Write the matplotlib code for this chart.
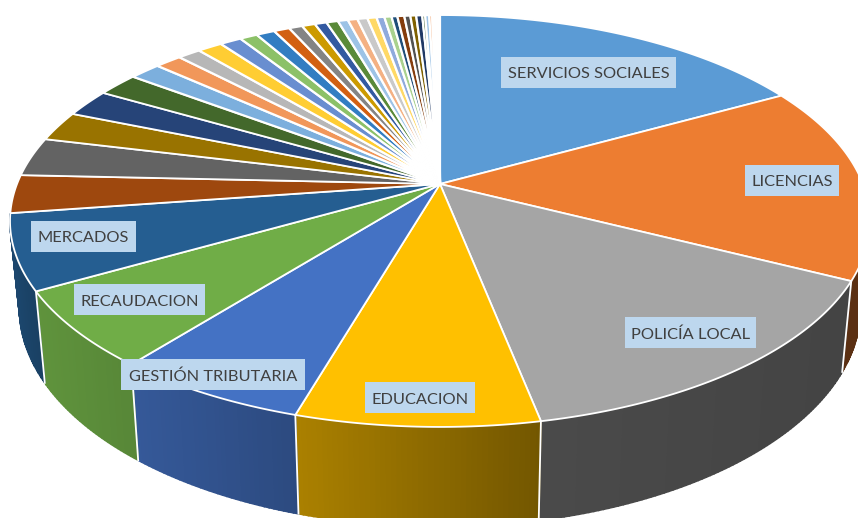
"""Tarta 3D por areas: cara superior en perspectiva, pared lateral con degradado y etiquetas."""

import matplotlib

matplotlib.use("Agg")
import matplotlib.pyplot as plt
import numpy as np
from matplotlib.colors import to_rgb
from matplotlib.patches import Rectangle

# Porcentaje de cada porcion, en sentido horario desde las 12.
shares = [
    17.01, 15.39, 14.46, 7.72, 6.23, 6.03,
    5.90, 2.99, 3.05, 2.36, 2.17, 1.86,
    1.40, 1.20, 1.03, 1.11, 0.97, 0.79,
    0.83, 0.71, 0.60, 0.59, 0.53, 0.52,
    0.45, 0.43, 0.45, 0.41, 0.35, 0.32,
    0.26, 0.31, 0.27, 0.26, 0.27, 0.13,
    0.18, 0.13, 0.04, 0.05, 0.05, 0.05, 0.05, 0.05, 0.06,
]
slice_colors = [
    "#5B9BD5", "#ED7D31", "#A5A5A5", "#FFC000", "#4472C4", "#70AD47",
    "#255E91", "#9E480E", "#636363", "#997300", "#264478", "#43682B",
    "#7CAFDD", "#F1975A", "#B7B7B7", "#FFCD33", "#698ED0", "#8CC168",
    "#327DC2", "#D26012", "#848484", "#CC9A00", "#335AA1", "#5A8A39",
    "#9DC3E6", "#F4B183", "#C9C9C9", "#FFD966", "#8FAADC", "#A9D18E",
    "#1F4E79", "#843C0C", "#525252", "#7F6000", "#203864", "#385723",
    "#9DC3E6", "#F4B183", "#E4E4E4", "#FFE699", "#B4C7E7", "#C5E0B4",
    "#BDD7EE", "#F8CBAD", "#EDEDED",
]
# Oscurecido de la pared (izquierda, derecha); solo se ven las porciones 1 a 6.
wall_shades = {
    1: (0.41, 0.38), 2: (0.45, 0.41), 3: (0.67, 0.45),
    4: (0.78, 0.65), 5: (0.85, 0.78), 6: (0.75, 0.68),
}

label_names = [
    "SERVICIOS SOCIALES", "LICENCIAS", "POLICÍA LOCAL", "EDUCACION",
    "GESTIÓN TRIBUTARIA", "RECAUDACION", "MERCADOS",
]
# x0, x1, y0, y1 de cada caja de etiqueta, en pixeles de la imagen.
label_boxes = [
    (501, 676, 57, 88), (745, 839, 165, 196), (625, 756, 317, 348),
    (365, 475, 382, 413), (121, 305, 359, 390), (74, 205, 284, 315),
    (31, 136, 221, 252),
]

CX, CY = 440.0, 184.0
K = 74 / 412
SCALE_X, SCALE_Y = 423.0, 199.3
BASE_X, BASE_Y, BASE_DY = 0.978, 1.06, 269.0


def project(theta):
    """Pasa un angulo (desde las 12, horario) al borde de la cara superior."""
    u, v = np.sin(theta), -np.cos(theta)
    d = 1 - K * v
    return CX + SCALE_X * u / d, CY + SCALE_Y * v / d


def to_base(x, y):
    """Baja un punto del borde superior hasta el borde inferior de la pared."""
    return CX + BASE_X * (x - CX), BASE_DY + BASE_Y * (y - CY)


fig = plt.figure(figsize=(8.58, 5.18), dpi=100)
ax = fig.add_axes([0, 0, 1, 1])
ax.set_xlim(0, 858)
ax.set_ylim(518, 0)
ax.axis("off")

edges = np.cumsum([0.0] + shares) / sum(shares) * 2 * np.pi

# pared lateral, tramo a tramo para el degradado
for i, (left, right) in wall_shades.items():
    steps = max(2, int(shares[i] * 6))
    theta = np.linspace(edges[i], edges[i + 1], steps + 1)
    x, y = project(theta)
    bx, by = to_base(x, y)
    span = x.max() - x.min()
    for j in range(steps):
        if y[j] < CY or y[j + 1] < CY:  # tramo trasero, queda oculto
            continue
        t = ((x[j] + x[j + 1]) / 2 - x.min()) / span
        rgb = np.array(to_rgb(slice_colors[i])) * (left + (right - left) * t)
        ax.fill([x[j], x[j + 1], bx[j + 1], bx[j]], [y[j], y[j + 1], by[j + 1], by[j]],
                color=rgb, lw=1.2, zorder=1)

# separaciones blancas entre paredes
x, y = project(edges)
bx, by = to_base(x, y)
for j in range(2, 7):
    ax.plot([x[j], bx[j]], [y[j], by[j]], color="white", lw=1.3, zorder=2)

# cara superior
for i, color in enumerate(slice_colors):
    steps = max(2, int(shares[i] * 6))
    px, py = project(np.linspace(edges[i], edges[i + 1], steps + 1))
    ax.fill(np.r_[CX, px], np.r_[CY, py], facecolor=color, edgecolor="white",
            lw=1.3 if i < 12 else 1.6, joinstyle="round", zorder=3)

for name, (x0, x1, y0, y1) in zip(label_names, label_boxes):
    ax.add_patch(Rectangle((x0, y0), x1 - x0, y1 - y0, color="#BDD7EE", lw=0, zorder=4))
    ax.text((x0 + x1) / 2, (y0 + y1) / 2 + 0.5, name, ha="center", va="center_baseline",
            family="Lato", fontsize=11.8, color="#404040", zorder=5)

fig.savefig("out.png", dpi=100)
plt.close(fig)
